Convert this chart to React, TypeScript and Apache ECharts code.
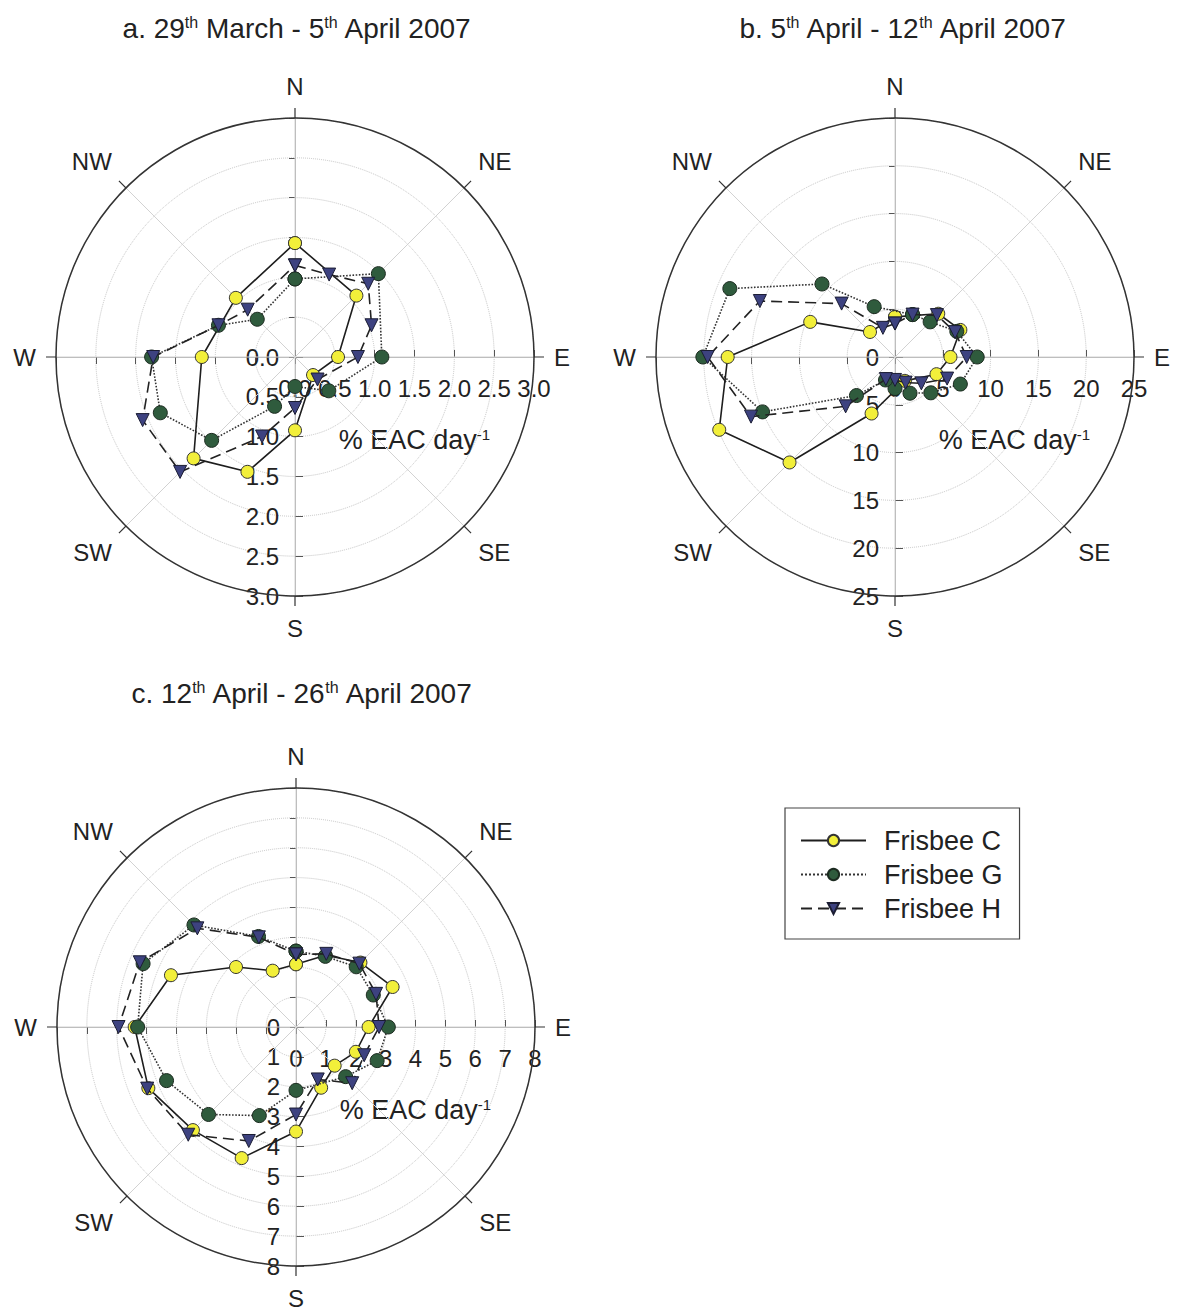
import React, { useEffect, useRef } from 'react';
import * as echarts from 'echarts';

// 16 wind directions (clockwise from North)
const directions = ['N', 'NNE', 'NE', 'ENE', 'E', 'ESE', 'SE', 'SSE', 'S', 'SSW', 'SW', 'WSW', 'W', 'WNW', 'NW', 'NNW'];
const compassLabels = ['N', 'NE', 'E', 'SE', 'S', 'SW', 'W', 'NW'];
const seriesNames = ['Frisbee C', 'Frisbee G', 'Frisbee H'];

// Chart a: 29th March - 5th April 2007 (% EAC day^-1), null = no value
const aFrisbeeC = [1.43, null, 1.09, null, 0.54, null, 0.32, null, 0.92, 1.56, 1.8, null, 1.17, null, 1.05, null];
const aFrisbeeG = [0.98, null, 1.48, null, 1.09, null, 0.6, null, 0.37, 0.67, 1.48, 1.83, 1.8, 1.04, 0.67, null];
const aFrisbeeH = [1.15, 1.12, 1.3, 1.04, 0.79, null, 0.4, null, 0.64, 1.08, 2.04, 2.07, 1.78, 1.04, 0.84, null];

// Chart b: 5th April - 12th April 2007
const bFrisbeeC = [4.2, null, 6.4, 7.4, 5.8, 4.7, null, 2.7, null, 6.4, 15.6, 19.9, 17.5, 9.6, 3.7, null];
const bFrisbeeG = [null, 4.8, 5.2, 7.0, 8.6, 7.4, 5.3, 4.1, 3.3, 2.6, 5.7, 15.0, 20.1, 18.7, 10.8, 5.7];
const bFrisbeeH = [3.5, 4.8, 6.2, 6.8, 7.5, 5.9, 3.9, 2.9, 2.4, 2.5, 7.3, 16.3, 19.6, 15.3, 7.9, 3.3];

// Chart c: 12th April - 26th April 2007
const cFrisbeeC = [2.1, 2.6, 3.05, 3.5, 2.43, 2.17, 1.83, 2.2, 3.5, 4.75, 4.88, 5.35, 5.4, 4.53, 2.84, 2.04];
const cFrisbeeG = [2.54, 2.56, 2.85, 2.8, 3.09, 2.94, 2.35, null, 2.12, 3.21, 4.14, 4.69, 5.3, 5.54, 4.83, 3.28];
const cFrisbeeH = [2.43, 2.65, 3.0, 2.9, 2.78, 2.47, 2.66, 1.9, 2.93, 4.13, 5.1, 5.39, 5.94, 5.66, 4.67, 3.25];

const chartTitles = [
  'a. 29{s|th} March - 5{s|th} April 2007',
  'b. 5{s|th} April - 12{s|th} April 2007',
  'c. 12{s|th} April - 26{s|th} April 2007',
];
const radiusMax = [3, 25, 8];
const radiusStep = [0.5, 5, 1];
const radiusDecimals = [1, 0, 0];
const chartData = [
  [aFrisbeeC, aFrisbeeG, aFrisbeeH],
  [bFrisbeeC, bFrisbeeG, bFrisbeeH],
  [cFrisbeeC, cFrisbeeG, cFrisbeeH],
];

// layout
const centers = [[295, 357], [895, 357], [296, 1027]];
const titlePos = [[297, 28], [903, 28], [302, 693]];
const R = 239;
const FONT = "'Liberation Sans', Arial, Helvetica, sans-serif";
const TXT = '#222';

const seriesStyles = [
  {
    symbol: 'circle', symbolSize: 13, symbolRotate: 0,
    itemStyle: { color: '#f2ef3a', borderColor: '#333', borderWidth: 1 },
    lineStyle: { color: '#1e1e1e', width: 1.6, type: 'solid' as any },
  },
  {
    symbol: 'circle', symbolSize: 14, symbolRotate: 0,
    itemStyle: { color: '#2f5b3d', borderColor: '#1c2b20', borderWidth: 1 },
    lineStyle: { color: '#333', width: 1.6, type: 'dotted' as any },
  },
  {
    symbol: 'triangle', symbolSize: 13, symbolRotate: 180,
    itemStyle: { color: '#3d4280', borderColor: '#1b1d33', borderWidth: 1 },
    lineStyle: { color: '#222', width: 1.6, type: [11, 6] as any },
  },
];

function buildOption() {
  const polar: any[] = [];
  const angleAxis: any[] = [];
  const radiusAxis: any[] = [];
  const series: any[] = [];
  const graphic: any[] = [];

  centers.forEach((c, k) => {
    const fmt = (v: number) => v.toFixed(radiusDecimals[k]);
    const base = k * 4;
    // 4 polars per chart: main (N), E, S, W
    const starts = [90, 0, 270, 180];
    starts.forEach((s, j) => {
      polar.push({ center: [c[0], c[1]], radius: R });
      const idx = base + j;
      if (j === 0) {
        angleAxis.push({
          polarIndex: idx, type: 'value', min: 0, max: 360, interval: 45,
          startAngle: 90, clockwise: true, z: 1,
          axisLine: { show: true, lineStyle: { color: '#333', width: 1.5 } },
          axisTick: { show: true, length: 10, lineStyle: { color: '#333', width: 1.2 } },
          axisLabel: {
            show: true, margin: 20, align: 'center', verticalAlign: 'middle',
            fontSize: 24, color: TXT, fontFamily: FONT,
            formatter: (v: number) => (v >= 360 ? '' : compassLabels[Math.round(v / 45) % 8]),
          },
          splitLine: { show: true, lineStyle: { color: '#d2d2d2', width: 1 } },
        });
        radiusAxis.push({
          polarIndex: idx, type: 'value', min: 0, max: radiusMax[k], interval: radiusStep[k],
          axisLine: { show: true, lineStyle: { color: '#aaa', width: 1 } },
          axisTick: { show: true, length: 6, lineStyle: { color: '#555' } },
          axisLabel: { show: false },
          splitLine: { show: true, lineStyle: { color: '#c4c4c4', width: 1, type: 'dotted' } },
        });
      } else {
        angleAxis.push({
          polarIndex: idx, type: 'value', min: 0, max: 360, startAngle: s, clockwise: true, show: false,
        });
        const ra: any = {
          polarIndex: idx, type: 'value', min: 0, max: radiusMax[k], interval: radiusStep[k],
          axisLine: { show: true, lineStyle: { color: '#aaa', width: 1 } },
          axisTick: { show: true, length: 7, lineStyle: { color: '#555' } },
          axisLabel: { show: false },
          splitLine: { show: false },
        };
        if (j === 1) {
          ra.axisLabel = {
            show: true, margin: -31, align: 'center', verticalAlign: 'middle',
            fontSize: 24, color: TXT, fontFamily: FONT, formatter: fmt,
          };
          ra.name = '% EAC day{s|-1}';
          ra.nameLocation = 'middle';
          ra.nameGap = 83;
          ra.nameTextStyle = {
            fontSize: 27, color: TXT, fontFamily: FONT, verticalAlign: 'middle',
            rich: { s: { fontSize: 15, color: TXT, fontFamily: FONT, verticalAlign: 'top' } },
          };
        } else if (j === 2) {
          ra.axisTick = { show: true, length: 8, inside: true, lineStyle: { color: '#555' } };
          ra.axisLabel = {
            show: true, margin: -16, align: 'right', verticalAlign: 'middle',
            fontSize: 24, color: TXT, fontFamily: FONT, formatter: fmt,
          };
        }
        radiusAxis.push(ra);
      }
    });

    chartData[k].forEach((vals, si) => {
      const pts: any[] = [];
      vals.forEach((v, i) => {
        if (v != null) pts.push([v, (i * 360) / directions.length]);
      });
      if (pts.length) pts.push([pts[0][0], pts[0][1]]);
      const st = seriesStyles[si];
      series.push({
        type: 'line', name: seriesNames[si], coordinateSystem: 'polar', polarIndex: base,
        data: pts, symbol: st.symbol, symbolSize: st.symbolSize, symbolRotate: st.symbolRotate,
        itemStyle: st.itemStyle, lineStyle: st.lineStyle, z: 2 + si, silent: true,
      });
    });

    graphic.push({
      type: 'text', x: titlePos[k][0], y: titlePos[k][1],
      style: {
        text: chartTitles[k], align: 'center', verticalAlign: 'middle',
        fontSize: 28, fill: TXT, fontFamily: FONT,
        rich: { s: { fontSize: 16, fill: TXT, fontFamily: FONT, verticalAlign: 'top' } },
      },
    });
  });

  return {
    animation: false,
    backgroundColor: '#fff',
    polar, angleAxis, radiusAxis, series, graphic,
    legend: {
      data: seriesNames, orient: 'vertical', left: 785, top: 808,
      padding: [19, 17, 17, 15], itemGap: 7, itemWidth: 65, itemHeight: 14,
      borderColor: '#444', borderWidth: 1.2, backgroundColor: '#fff',
      textStyle: { fontSize: 27, lineHeight: 27, color: TXT, fontFamily: FONT, padding: [0, 0, 0, 13] },
      selectedMode: false,
    },
  };
}

export default function App() {
  const ref = useRef<HTMLDivElement>(null);
  useEffect(() => {
    if (!ref.current) return;
    const chart = echarts.init(ref.current, undefined, { renderer: 'svg' });
    chart.setOption(buildOption() as any);
    return () => chart.dispose();
  }, []);
  return (
    <div
      ref={ref}
      style={{ position: 'absolute', left: 0, top: 0, width: 1182, height: 1313, background: '#fff' }}
    />
  );
}
